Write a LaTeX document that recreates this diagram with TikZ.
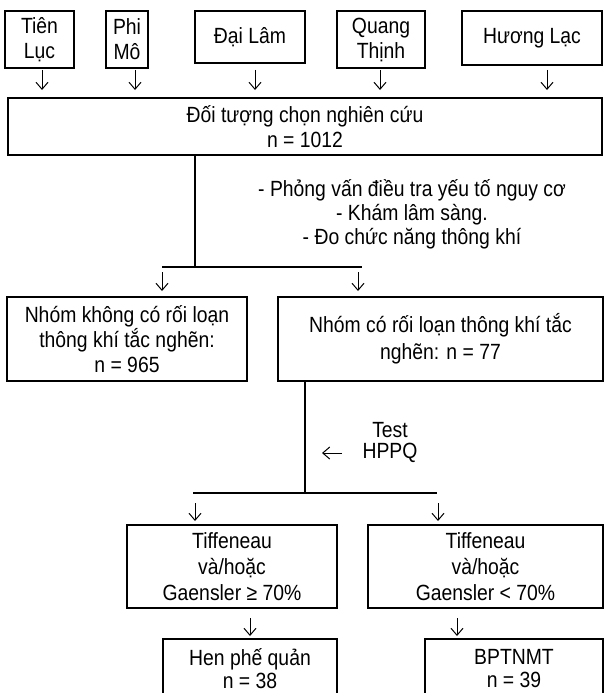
\documentclass[tikz,border=0pt]{standalone}
\usepackage{fontspec}
\setmainfont{Liberation Sans}[FakeStretch=0.88]
\usetikzlibrary{arrows.meta}
\newcommand\fs{\fontsize{22}{25}\selectfont}
\begin{document}
\begin{tikzpicture}[x=1pt,y=-1pt,
  box/.style={draw,line width=2.3pt,rectangle,inner sep=0pt,align=center,font=\fs},
  conn/.style={line width=2.3pt},
  arr/.style={line width=1pt,-{Straight Barb[length=7pt,width=12pt]}},
  lab/.style={align=center,font=\fs,inner sep=0pt}]
\useasboundingbox (0,0) rectangle (605,693);
\clip (0,0) rectangle (605,693);
% top boxes
\node[box,minimum width=69pt,minimum height=57pt] (tien) at (39.5,39.5) {Tiên\\Lục};
\node[box,minimum width=42pt,minimum height=57pt] (phi) at (127,39.5) {Phi\\Mô};
\node[box,minimum width=110pt,minimum height=52pt] (dai) at (250,37) {Đại Lâm};
\node[box,minimum width=88pt,minimum height=57pt] (quang) at (381,39.5) {Quang\\Thịnh};
\node[box,minimum width=140pt,minimum height=54pt] (huong) at (532,38) {Hương Lạc};
% arrows to big box
\foreach \n/\x in {1/42,2/135,3/255,4/380,5/547}{
  \coordinate (t\n s) at (\x,70);
  \coordinate (t\n e) at (\x,90);
  \draw[arr] (t\n s) -- (t\n e);
}
\node[box,minimum width=594pt,minimum height=57pt] (big) at (305,126.5) {Đối tượng chọn nghiên cứu\\n = 1012};
% procedures
\coordinate (j1) at (195,267);
\coordinate (h1l) at (162,267);
\coordinate (h1r) at (362,267);
\draw[conn] (big.south -| j1) -- (j1);
\draw[conn] (h1l) -- (h1r);
\node[lab,font=\fontsize{22}{24}\selectfont] (proc) at (412,214) {- Phỏng vấn điều tra yếu tố nguy cơ\\- Khám lâm sàng.\\- Đo chức năng thông khí};
\coordinate (m1s) at (162,272); \coordinate (m1e) at (162,291);
\coordinate (m2s) at (358,272); \coordinate (m2e) at (358,291);
\draw[arr] (m1s) -- (m1e);
\draw[arr] (m2s) -- (m2e);
% middle boxes
\node[box,minimum width=240pt,minimum height=84pt] (lmid) at (127,339) {Nhóm không có rối loạn\\thông khí tắc nghẽn:\\n = 965};
\node[box,minimum width=325pt,minimum height=84pt,font=\fontsize{22}{27}\selectfont] (rmid) at (440.5,339) {Nhóm có rối loạn thông khí tắc\\nghẽn: n = 77};
% test
\coordinate (j2) at (305,493);
\coordinate (h2l) at (193,493);
\coordinate (h2r) at (437,493);
\draw[conn] (rmid.south -| j2) -- (j2);
\draw[conn] (h2l) -- (h2r);
\node[lab] (test) at (390,430) {Test};
\node[lab] (hppq) at (390,453) {HPPQ};
\coordinate (ls) at (342,453); \coordinate (le) at (322,453);
\draw[arr] (ls) -- (le);
\coordinate (b1s) at (195,503); \coordinate (b1e) at (195,521);
\coordinate (b2s) at (438,503); \coordinate (b2e) at (438,521);
\draw[arr] (b1s) -- (b1e);
\draw[arr] (b2s) -- (b2e);
% tiffeneau boxes
\node[box,minimum width=210pt,minimum height=83pt,font=\fontsize{22}{26}\selectfont] (tl) at (232,566.5) {Tiffeneau\\và/hoặc\\Gaensler ≥ 70\%};
\node[box,minimum width=235pt,minimum height=83pt,font=\fontsize{22}{26}\selectfont] (tr) at (485.5,566.5) {Tiffeneau\\và/hoặc\\Gaensler < 70\%};
\coordinate (c1s) at (250,618); \coordinate (c1e) at (250,636);
\coordinate (c2s) at (457,618); \coordinate (c2e) at (457,636);
\draw[arr] (c1s) -- (c1e);
\draw[arr] (c2s) -- (c2e);
% result boxes
\node[box,minimum width=174pt,minimum height=59pt,font=\fontsize{22}{23}\selectfont] (hen) at (250,668.5) {Hen phế quản\\n = 38};
\node[box,minimum width=178pt,minimum height=59pt,font=\fontsize{22}{23}\selectfont] (bpt) at (514,668.5) {BPTNMT\\n = 39};
\end{tikzpicture}
\end{document}
